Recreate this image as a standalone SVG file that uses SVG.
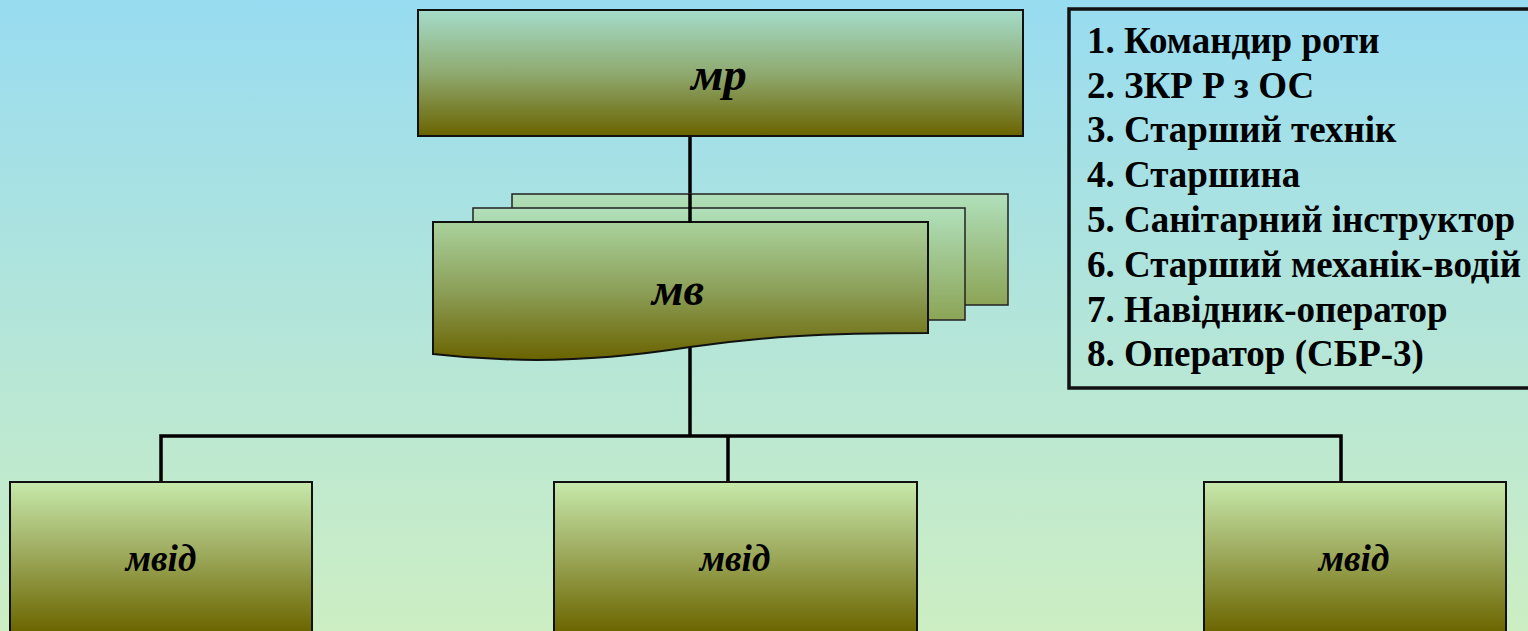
<svg xmlns="http://www.w3.org/2000/svg" width="1528" height="631" viewBox="0 0 1528 631">
<defs>
<linearGradient id="bg" x1="0" y1="0" x2="0" y2="1">
<stop offset="0" stop-color="#98DCF1"/>
<stop offset="1" stop-color="#CDEEC3"/>
</linearGradient>
<linearGradient id="gTop" x1="0" y1="0" x2="0" y2="1">
<stop offset="0" stop-color="#A4DCCA"/>
<stop offset="0.5" stop-color="#8FAA70"/>
<stop offset="1" stop-color="#6A6300"/>
</linearGradient>
<linearGradient id="gFront" x1="0" y1="0" x2="0" y2="1">
<stop offset="0" stop-color="#A9D29C"/>
<stop offset="0.5" stop-color="#8C9F58"/>
<stop offset="1" stop-color="#6A6300"/>
</linearGradient>
<linearGradient id="gBack" x1="0" y1="0" x2="0" y2="1">
<stop offset="0" stop-color="#B0E0BB"/>
<stop offset="1" stop-color="#8CA456"/>
</linearGradient>
<linearGradient id="gLeafFull" gradientUnits="userSpaceOnUse" x1="0" y1="482" x2="0" y2="631">
<stop offset="0" stop-color="#C6E9AB"/>
<stop offset="0.45" stop-color="#A0AE62"/>
<stop offset="1" stop-color="#6C6600"/>
</linearGradient>
</defs>
<style>
.lbl{font-family:"Liberation Serif","Times New Roman",serif;font-style:italic;font-weight:bold;fill:#000;text-anchor:middle}
.leg{font-family:"Liberation Serif","Times New Roman",serif;font-weight:bold;font-size:37px;fill:#000}
.box{stroke:#111;stroke-width:2}
.conn{stroke:#000;stroke-width:3.5;fill:none}
</style>
<rect x="0" y="0" width="1528" height="631" fill="url(#bg)"/>

<g id="connectors">
<line class="conn" x1="690" y1="136" x2="690" y2="223"/>
<line class="conn" x1="690" y1="346" x2="690" y2="436"/>
<polyline class="conn" points="161,483 161,436 1341,436 1341,483"/>
<line class="conn" x1="728" y1="436" x2="728" y2="483"/>
</g>

<g id="node-mr">
<rect class="box" x="418" y="10" width="605" height="126" fill="url(#gTop)"/>
<text class="lbl" x="719" y="90" font-size="47">мр</text>
</g>

<g id="node-mv">
<rect x="512" y="194" width="496" height="111" fill="url(#gBack)" stroke="#222" stroke-width="1.5"/>
<rect x="473" y="208" width="492" height="112" fill="url(#gBack)" stroke="#222" stroke-width="1.5"/>
<path d="M433,222 H928 V333 C820,333 760,337 690,347 C620,358 560,362 500,359 C470,358 450,356 433,354 Z" fill="url(#gFront)" stroke="#111" stroke-width="2"/>
<line class="conn" x1="690" y1="194" x2="690" y2="223"/>
<text class="lbl" x="678" y="305" font-size="46">мв</text>
</g>

<g id="node-mvid-1">
<rect class="box" x="10" y="482" width="302" height="160" fill="url(#gLeafFull)"/>
<text class="lbl" x="161" y="571" font-size="37">мвід</text>
</g>
<g id="node-mvid-2">
<rect class="box" x="554" y="482" width="363" height="160" fill="url(#gLeafFull)"/>
<text class="lbl" x="735" y="571" font-size="37">мвід</text>
</g>
<g id="node-mvid-3">
<rect class="box" x="1204" y="482" width="302" height="160" fill="url(#gLeafFull)"/>
<text class="lbl" x="1354" y="571" font-size="37">мвід</text>
</g>

<g id="legend">
<rect x="1069" y="9" width="470" height="379" fill="none" stroke="#111" stroke-width="3.5"/>
<text class="leg" x="1087" y="53">1. Командир роти</text>
<text class="leg" x="1087" y="98">2. ЗКР Р з ОС</text>
<text class="leg" x="1087" y="142">3. Старший технік</text>
<text class="leg" x="1087" y="187">4. Старшина</text>
<text class="leg" x="1087" y="232">5. Санітарний інструктор</text>
<text class="leg" x="1087" y="277">6. Старший механік-водій</text>
<text class="leg" x="1087" y="322">7. Навідник-оператор</text>
<text class="leg" x="1087" y="366">8. Оператор (СБР-3)</text>
</g>
</svg>
